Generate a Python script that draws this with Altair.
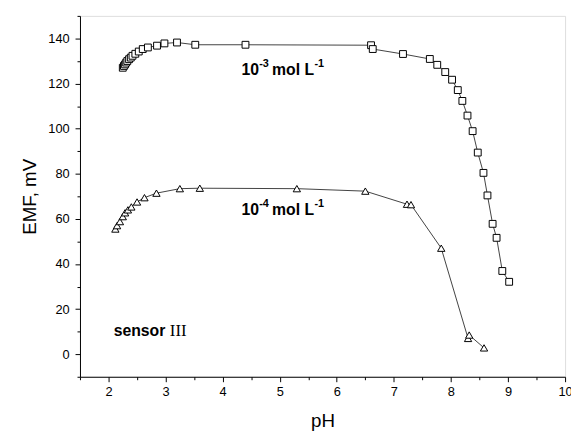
import altair as alt
import pandas as pd

# 10^-3 mol L^-1 series (squares)
ph_1e3 = [2.25, 2.27, 2.29, 2.31, 2.33, 2.36, 2.39, 2.42, 2.47, 2.53, 2.60, 2.69, 2.85,
          2.98, 3.20, 3.52, 4.40, 6.60, 6.63, 7.16, 7.63, 7.76, 7.90, 8.02, 8.12, 8.20,
          8.29, 8.38, 8.47, 8.57, 8.64, 8.73, 8.80, 8.90, 9.02]
emf_1e3 = [127.0, 127.8, 128.5, 129.3, 130.0, 130.8, 131.5, 132.3, 133.2, 134.2, 135.3, 136.0, 136.8,
           137.8, 138.2, 137.2, 137.2, 137.0, 135.3, 133.1, 130.9, 128.3, 125.1, 121.7, 117.1, 112.3,
           105.8, 98.9, 89.4, 80.4, 70.4, 57.8, 51.6, 36.9, 32.1]

# 10^-4 mol L^-1 series (triangles)
ph_1e4 = [2.12, 2.15, 2.20, 2.25, 2.29, 2.34, 2.40, 2.50, 2.63, 2.84, 3.25, 3.60, 5.30,
          6.50, 7.23, 7.30, 7.83, 8.30, 8.32, 8.58]
emf_1e4 = [55.5, 57.0, 58.8, 61.0, 62.7, 64.0, 65.3, 67.5, 69.4, 71.4, 73.4, 73.6, 73.4,
           72.3, 66.5, 66.3, 47.0, 7.0, 8.5, 2.8]

x_major = [2, 3, 4, 5, 6, 7, 8, 9, 10]
x_minor = [1.5, 2.5, 3.5, 4.5, 5.5, 6.5, 7.5, 8.5, 9.5]
y_major = [0, 20, 40, 60, 80, 100, 120, 140]
y_minor = [-10, 10, 30, 50, 70, 90, 110, 130, 150]

# concentration labels: base "10", exponent, "mol L", exponent "-1"
label_exps = ["-3", "-4"]
labels_x = [4.33, 4.33]
labels_y = [126, 64]

df3 = pd.DataFrame({"pH": ph_1e3, "EMF": emf_1e3, "i": list(range(len(ph_1e3)))})
df4 = pd.DataFrame({"pH": ph_1e4, "EMF": emf_1e4, "i": list(range(len(ph_1e4)))})
dsens = pd.DataFrame({"pH": [2.09], "EMF": [10.3]})

FONT = "Liberation Sans"
xs = alt.Scale(domain=[1.5, 10], nice=False, zero=False)
ys = alt.Scale(domain=[-10, 150], nice=False, zero=False)

x_axis = alt.Axis(values=x_major, orient="bottom", tickSize=5, labelFontSize=13, labelPadding=4,
                  labelFont=FONT, labelColor="black", labelFlush=False, labelOverlap=False,
                  title="pH", titleFont=FONT, titleFontSize=19, titleFontWeight="normal",
                  titleColor="black", titlePadding=13, grid=False, domainColor="black",
                  tickColor="black", format="d")
y_axis = alt.Axis(values=y_major, orient="left", tickSize=5, labelFontSize=13, labelPadding=6,
                  labelFont=FONT, labelColor="black", labelOverlap=False,
                  title="EMF, mV", titleFont=FONT, titleFontSize=19, titleFontWeight="normal",
                  titleColor="black", titlePadding=8, grid=False, domainColor="black",
                  tickColor="black", format="d")
x_minor_axis = alt.Axis(values=x_minor, orient="bottom", tickSize=3, labels=False, domain=False,
                        title=None, grid=False, tickColor="black")
y_minor_axis = alt.Axis(values=y_minor, orient="left", tickSize=3, labels=False, domain=False,
                        title=None, grid=False, tickColor="black")

X = alt.X("pH:Q", axis=None)
Y = alt.Y("EMF:Q", axis=None)

base3 = alt.Chart(df3)
base4 = alt.Chart(df4)

line3 = base3.mark_line(color="#111111", strokeWidth=0.8).encode(
    x=alt.X("pH:Q", scale=xs, axis=x_axis),
    y=alt.Y("EMF:Q", scale=ys, axis=y_axis),
    order="i:Q",
)
minor = base3.mark_point(opacity=0).encode(
    x=alt.X("pH:Q", scale=xs, axis=x_minor_axis),
    y=alt.Y("EMF:Q", scale=ys, axis=y_minor_axis),
)
line4 = base4.mark_line(color="#111111", strokeWidth=0.8).encode(x=X, y=Y, order="i:Q")
pts3 = base3.mark_point(shape="square", size=48, filled=True, fill="white", stroke="black",
                        strokeWidth=1, opacity=1).encode(x=X, y=Y)
pts4 = base4.mark_point(shape="triangle-up", size=55, filled=True, fill="white", stroke="black",
                        strokeWidth=1, opacity=1).encode(x=X, y=Y)

layers = [line3, minor, line4, pts3, pts4]

# label pieces: (text, fontSize, dx, dy)
for k in range(len(label_exps)):
    d = pd.DataFrame({"pH": [labels_x[k]], "EMF": [labels_y[k]]})
    pieces = [("10", 16, 0, 0), (label_exps[k], 11, 18, -6), ("mol L", 16, 31, 0), ("-1", 11, 74, -6)]
    for txt, fs, dx, dy in pieces:
        layers.append(
            alt.Chart(d).mark_text(font=FONT, fontSize=fs, fontWeight="bold", align="left",
                                   baseline="middle", color="black", dx=dx, dy=dy, text=txt)
            .encode(x=X, y=Y)
        )

layers.append(
    alt.Chart(dsens).mark_text(font=FONT, fontSize=16, fontWeight="bold", align="left",
                               baseline="middle", color="black", text="sensor")
    .encode(x=X, y=Y)
)
layers.append(
    alt.Chart(dsens).mark_text(font="Liberation Serif", fontSize=17, align="left",
                               baseline="middle", color="black", dx=57, text="III")
    .encode(x=X, y=Y)
)

chart = alt.layer(*layers).resolve_axis(
    x="independent", y="independent"
).properties(
    width=492, height=366, autosize="none",
    padding={"left": 73, "top": 5, "right": 6, "bottom": 52},
).configure_view(stroke="black", strokeWidth=1).configure(background="white")

chart.save("out.html", embed_options={"renderer": "svg", "actions": False})
